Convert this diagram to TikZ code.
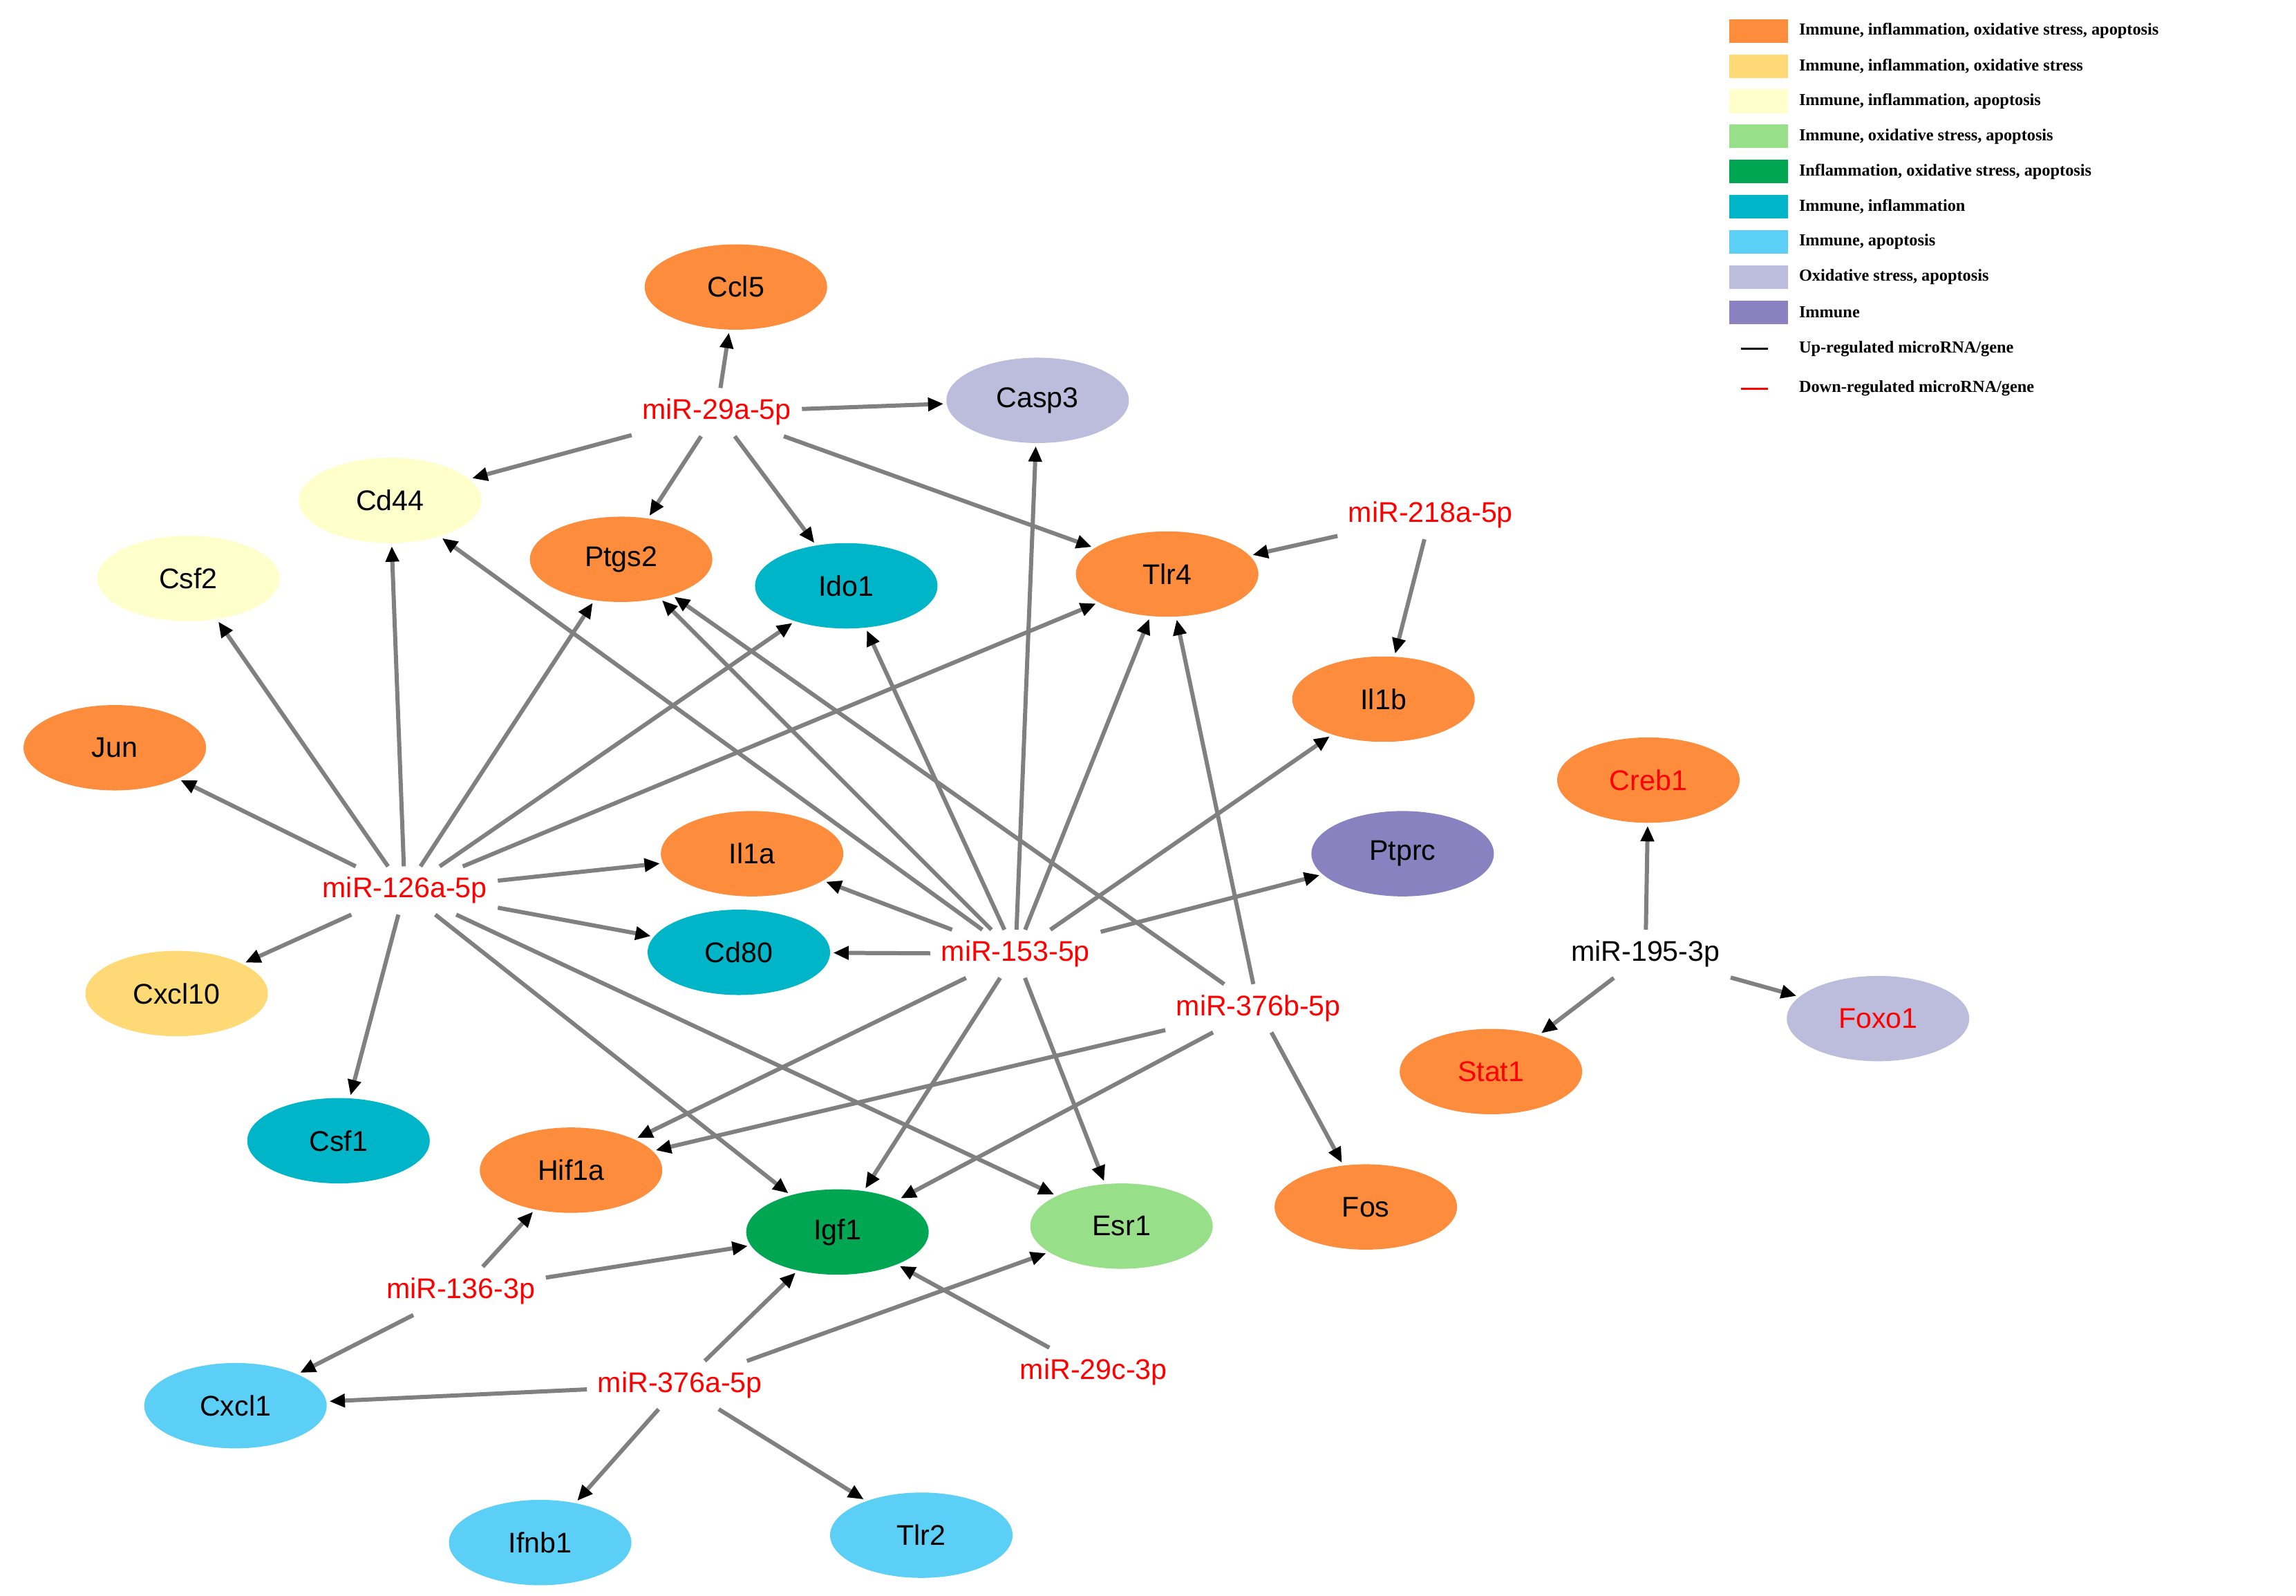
\documentclass[tikz,border=0pt]{standalone}
\usepackage{fontspec}
\setmainfont{Liberation Sans}
\newfontfamily\legfont{Liberation Serif}
\usetikzlibrary{arrows.meta,shapes.geometric}
\definecolor{cOr}{HTML}{FD8D3C}
\definecolor{cYe}{HTML}{FED976}
\definecolor{cLy}{HTML}{FFFFCC}
\definecolor{cLg}{HTML}{98DF8A}
\definecolor{cGr}{HTML}{00A651}
\definecolor{cTe}{HTML}{00B5C8}
\definecolor{cSk}{HTML}{5BCFF5}
\definecolor{cLa}{HTML}{BCBDDC}
\definecolor{cPu}{HTML}{8A81C0}
\tikzset{
  gene/.style={ellipse,fill=#1,minimum width=2.48cm,minimum height=1.16cm,inner sep=0pt,font=\fontsize{11}{13}\selectfont},
  mir/.style={text=red,inner sep=4pt,font=\fontsize{11}{13}\selectfont},
  edge/.style={draw=gray,line width=1.6pt,-{Triangle[length=6pt,width=5pt,color=black]},shorten >=1pt},
  legbox/.style={fill=#1,minimum width=0.8cm,minimum height=0.32cm,inner sep=0pt},
  legtext/.style={anchor=west,inner sep=0pt,font=\legfont\bfseries\fontsize{6.5}{8}\selectfont}
}
\begin{document}
\begin{tikzpicture}[x=0.02cm,y=-0.02cm]
\useasboundingbox (0,0) rectangle (1560,1084);
% genes
\node [gene=cOr](ccl5)at(500,195){Ccl5};
\node [gene=cLa](casp3)at(705,272){Casp3};
\node [gene=cLy](cd44)at(265,340){Cd44};
\node [gene=cOr](ptgs2)at(422,380){Ptgs2};
\node [gene=cTe](ido1)at(575,398){Ido1};
\node [gene=cOr](tlr4)at(793,390){Tlr4};
\node [gene=cLy](csf2)at(128,393){Csf2};
\node [gene=cOr](il1b)at(940,475){Il1b};
\node [gene=cOr,text=red](creb1)at(1120,530){Creb1};
\node [gene=cOr](jun)at(78,508){Jun};
\node [gene=cPu](ptprc)at(953,580){Ptprc};
\node [gene=cOr](il1a)at(511,580){Il1a};
\node [gene=cTe](cd80)at(502,647){Cd80};
\node [gene=cYe](cxcl10)at(120,675){Cxcl10};
\node [gene=cLa,text=red](foxo1)at(1276,692){Foxo1};
\node [gene=cOr,text=red](stat1)at(1013,728){Stat1};
\node [gene=cTe](csf1)at(230,775){Csf1};
\node [gene=cOr](hif1a)at(388,795){Hif1a};
\node [gene=cOr](fos)at(928,820){Fos};
\node [gene=cGr](igf1)at(569,837){Igf1};
\node [gene=cLg](esr1)at(762,833){Esr1};
\node [gene=cSk](cxcl1)at(160,955){Cxcl1};
\node [gene=cSk](ifnb1)at(367,1048){Ifnb1};
\node [gene=cSk](tlr2)at(626,1043){Tlr2};
% microRNAs
\node [mir](m29a)at(487,280){miR-29a-5p};
\node [mir](m218a)at(972,350){miR-218a-5p};
\node [mir](m126a)at(275,605){miR-126a-5p};
\node [mir](m153)at(690,648){miR-153-5p};
\node [mir,text=black](m195)at(1118,648){miR-195-3p};
\node [mir](m376b)at(855,685){miR-376b-5p};
\node [mir](m136)at(313,877){miR-136-3p};
\node [mir](m376a)at(462,941){miR-376a-5p};
\node [mir](m29c)at(743,932){miR-29c-3p};
% edges
\foreach \t in {ccl5,casp3,cd44,ptgs2,ido1,tlr4} \draw [edge](m29a)--(\t);
\foreach \t in {tlr4,il1b} \draw [edge](m218a)--(\t);
\foreach \t in {jun,csf2,cd44,ptgs2,ido1,tlr4,il1a,cd80,cxcl10,csf1,igf1,esr1} \draw [edge](m126a)--(\t);
\foreach \t in {cd44,ptgs2,ido1,casp3,tlr4,il1b,ptprc,il1a,cd80,hif1a,igf1,esr1} \draw [edge](m153)--(\t);
\foreach \t in {ptgs2,tlr4,hif1a,igf1,fos} \draw [edge](m376b)--(\t);
\foreach \t in {creb1,foxo1,stat1} \draw [edge](m195)--(\t);
\foreach \t in {hif1a,igf1,cxcl1} \draw [edge](m136)--(\t);
\foreach \t in {igf1,esr1,cxcl1,ifnb1,tlr2} \draw [edge](m376a)--(\t);
\draw [edge](m29c)--(igf1);
% legend
\foreach \c/\l [count=\i] in {cOr/{Immune, inflammation, oxidative stress, apoptosis},
  cYe/{Immune, inflammation, oxidative stress},
  cLy/{Immune, inflammation, apoptosis},
  cLg/{Immune, oxidative stress, apoptosis},
  cGr/{Inflammation, oxidative stress, apoptosis},
  cTe/{Immune, inflammation},
  cSk/{Immune, apoptosis},
  cLa/{Oxidative stress, apoptosis},
  cPu/{Immune}}{
  \node [legbox=\c](lb\i)at(1195,{21+(\i-1)*23.9}){};
  \node [legtext](lt\i)at(1222,{21+(\i-1)*23.9}){\l};
}
\coordinate (ua)at(1183,237); \coordinate (ub)at(1201,237);
\coordinate (da)at(1183,264); \coordinate (db)at(1201,264);
\draw [black,line width=0.8pt](ua)--(ub);
\draw [red,line width=0.8pt](da)--(db);
\node [legtext](lup)at(1222,237){Up-regulated microRNA/gene};
\node [legtext](ldn)at(1222,264){Down-regulated microRNA/gene};
\end{tikzpicture}
\end{document}
